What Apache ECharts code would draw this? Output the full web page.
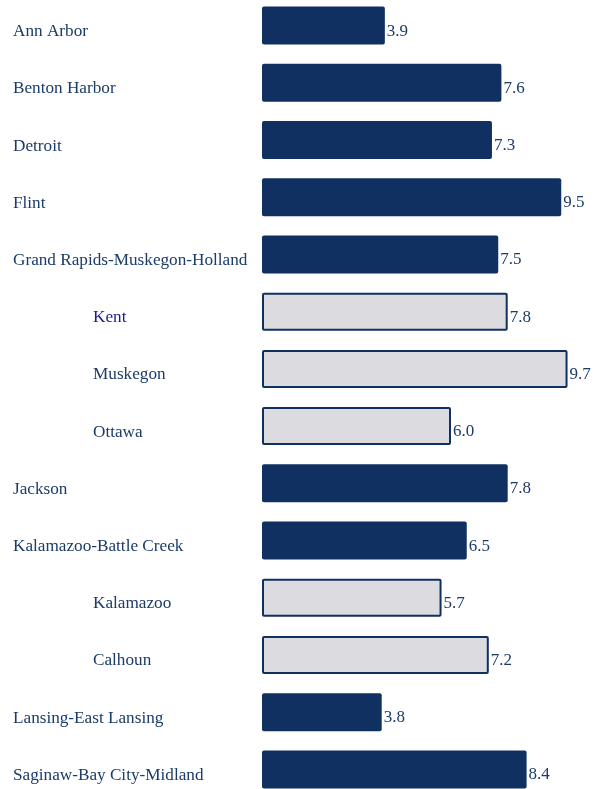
<!DOCTYPE html>
<html><head><meta charset="utf-8">
<script src="https://cdn.jsdelivr.net/npm/echarts@6/dist/echarts.min.js"></script>
<style>html,body{margin:0;padding:0;background:#fff;overflow:hidden;}#c{position:absolute;left:0;top:-3px;width:600px;height:801px;}</style>
</head><body><div id="c"></div>
<script>
const categories = ['Ann Arbor','Benton Harbor','Detroit','Flint','Grand Rapids-Muskegon-Holland','Kent','Muskegon','Ottawa','Jackson','Kalamazoo-Battle Creek','Kalamazoo','Calhoun','Lansing-East Lansing','Saginaw-Bay City-Midland'];
const values = [3.9,7.6,7.3,9.5,7.5,7.8,9.7,6.0,7.8,6.5,5.7,7.2,3.8,8.4];
const isCounty = [false,false,false,false,false,true,true,true,false,false,true,true,false,false];

const NAVY = '#0f3061';
const LIGHT = '#dcdbe0';
const TXT = '#1b3b68';

const chart = echarts.init(document.getElementById('c'), null, {renderer:'canvas'});
chart.setOption({
  animation:false,
  grid:{left:262, width:315, top:0, bottom:0, containLabel:false},
  xAxis:{type:'value', min:0, max:10, show:false},
  yAxis:{type:'category', inverse:true, data:categories,
    axisLine:{show:false}, axisTick:{show:false}, splitLine:{show:false},
    axisLabel:{align:'left', margin:249, interval:0,
      formatter:function(v, i){
        if (v==='Kent') return '{kent|'+v+'}';
        return isCounty[i] ? '{sub|'+v+'}' : '{top|'+v+'}';
      },
      rich:{
        top:{fontFamily:'Liberation Serif', fontSize:17.2, color:TXT, padding:[12,0,0,0]},
        sub:{fontFamily:'Liberation Serif', fontSize:17.2, color:TXT, padding:[12,0,0,80]},
        kent:{fontFamily:'Liberation Serif', fontSize:17.2, color:'#1c1c8c', padding:[12,0,0,80]}
      }
    }
  },
  series:[{
    type:'bar', barWidth:38,
    data: values.map((v,i)=>({value:v, itemStyle: isCounty[i]
      ? {color:LIGHT, borderColor:NAVY, borderWidth:2, borderRadius:1}
      : {color:NAVY, borderRadius:2}})),
    label:{show:true, position:'right', distance:2, offset:[0,5.5],
      fontFamily:'Liberation Serif', fontSize:17, color:TXT,
      formatter:p=>p.value.toFixed(1)}
  }]
});
</script></body></html>
